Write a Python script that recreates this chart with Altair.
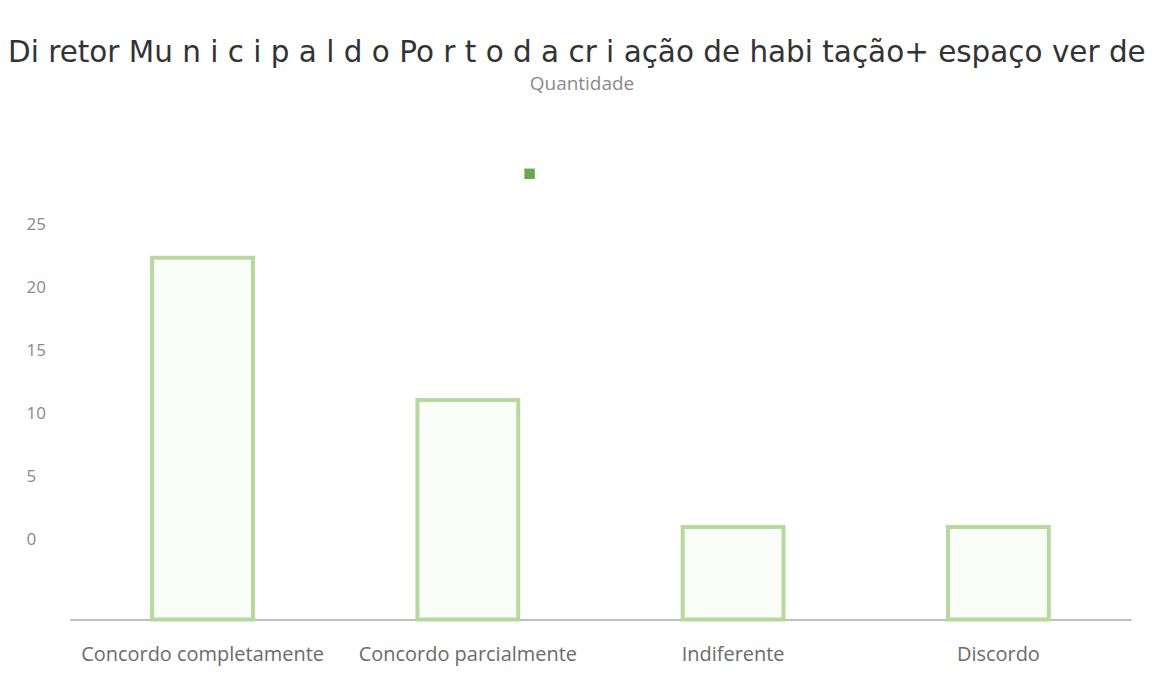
import altair as alt
import pandas as pd

categories = ["Concordo completamente", "Concordo parcialmente", "Indiferente", "Discordo"]
values = [22.4, 11.1, 1.0, 1.0]
y_ticks = [0, 5, 10, 15, 20, 25]
y_min, y_max = -6.35, 34.1
series_name = "Quantidade"
title_text = "Di retor Mu n i c i p a l d o Po r t o d a cr i ação de habi tação+ espaço ver de"

df = pd.DataFrame({"cat": categories, "val": values, "serie": [series_name] * len(categories)})

W, H = 1063, 510

bars = alt.Chart(df).mark_bar(
    fill="#fbfdf8", stroke="#b7d89f", strokeWidth=4
).encode(
    x=alt.X("cat:N", sort=categories, title=None,
            scale=alt.Scale(paddingInner=0.62, paddingOuter=0.31),
            axis=alt.Axis(labelAngle=0, labelFontSize=20, labelFont="Open Sans",
                          labelColor="#6b6b6b", labelPadding=25, labelLimit=0,
                          ticks=False, domainColor="#bfbfbf", domainWidth=2)),
    y=alt.Y("val:Q", title=None,
            scale=alt.Scale(domain=[y_min, y_max], nice=False, zero=False),
            axis=alt.Axis(values=y_ticks, grid=False, domain=False, ticks=False,
                          labelAlign="left", labelPadding=44, labelFontSize=17,
                          labelFont="Open Sans", labelColor="#8a8a8a")),
    y2=alt.datum(y_min),
    color=alt.Color("serie:N", scale=alt.Scale(range=["#6aa84f"]),
                    legend=alt.Legend(orient="none", legendX=455, legendY=58,
                                      title=None, labelExpr="''", symbolType="square",
                                      symbolSize=110, symbolStrokeWidth=0,
                                      symbolFillColor="#6aa84f")),
)

sub = alt.Chart(pd.DataFrame({"t": [series_name]})).mark_text(
    fontSize=19, font="Open Sans", color="#8a8a8a", baseline="middle"
).encode(text="t:N", x=alt.value(513), y=alt.value(-26))

chart = alt.layer(bars, sub).properties(
    width=W, height=H,
    autosize=alt.AutoSizeParams(type="none"),
    padding={"left": 62, "top": 102, "right": 20, "bottom": 50},
    title=alt.TitleParams(text=title_text, anchor="start", frame="group", dx=-62,
                          offset=7, fontSize=29.5, font="DejaVu Sans",
                          fontWeight="normal", color="#333333"),
).configure_view(stroke=None)

chart.save("out.html", embed_options={"renderer": "svg", "actions": False})
